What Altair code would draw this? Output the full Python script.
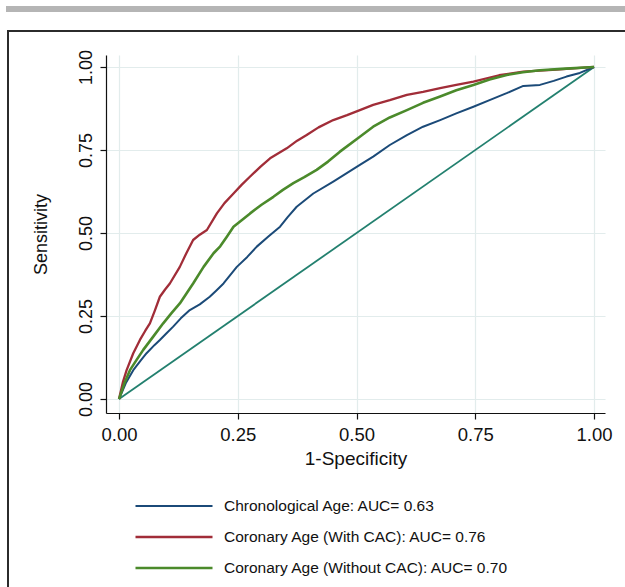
import altair as alt
import pandas as pd

# ---- data ----
labels = [
    "Chronological Age: AUC= 0.63",
    "Coronary Age (With CAC): AUC= 0.76",
    "Coronary Age (Without CAC): AUC= 0.70",
]
colors = ["#1b4a78", "#a12d38", "#4b8a2b"]
widths = [2.0, 2.6, 2.6]

fpr_chrono = [0, 0.015, 0.030, 0.045, 0.058, 0.075, 0.086, 0.100, 0.114, 0.130, 0.149, 0.170,
              0.191, 0.205, 0.220, 0.248, 0.270, 0.290, 0.315, 0.339, 0.355, 0.374, 0.409,
              0.451, 0.507, 0.535, 0.570, 0.606, 0.640, 0.676, 0.710, 0.746, 0.780, 0.816,
              0.851, 0.886, 0.915, 0.942, 0.970, 1.0]
tpr_chrono = [0, 0.050, 0.087, 0.115, 0.138, 0.163, 0.178, 0.198, 0.218, 0.243, 0.268, 0.285,
              0.308, 0.327, 0.348, 0.398, 0.428, 0.459, 0.490, 0.519, 0.548, 0.579, 0.619,
              0.655, 0.705, 0.730, 0.765, 0.795, 0.820, 0.840, 0.860, 0.880, 0.900, 0.921,
              0.943, 0.946, 0.958, 0.971, 0.982, 1.0]

fpr_with = [0, 0.008, 0.016, 0.030, 0.044, 0.055, 0.065, 0.075, 0.086, 0.097, 0.107, 0.128,
            0.142, 0.156, 0.170, 0.185, 0.206, 0.222, 0.241, 0.258, 0.276, 0.298, 0.318,
            0.353, 0.375, 0.395, 0.420, 0.451, 0.480, 0.507, 0.535, 0.570, 0.606, 0.640,
            0.676, 0.710, 0.746, 0.800, 0.851, 0.921, 1.0]
tpr_with = [0, 0.050, 0.087, 0.138, 0.178, 0.205, 0.228, 0.265, 0.308, 0.330, 0.348, 0.398,
            0.440, 0.479, 0.495, 0.509, 0.559, 0.590, 0.619, 0.645, 0.670, 0.700, 0.725,
            0.755, 0.778, 0.795, 0.818, 0.840, 0.855, 0.870, 0.886, 0.900, 0.916, 0.925,
            0.936, 0.946, 0.956, 0.975, 0.986, 0.992, 1.0]

fpr_without = [0, 0.012, 0.023, 0.037, 0.051, 0.072, 0.093, 0.110, 0.128, 0.142, 0.156, 0.178,
               0.199, 0.213, 0.227, 0.241, 0.276, 0.300, 0.325, 0.345, 0.367, 0.390, 0.416,
               0.440, 0.465, 0.507, 0.535, 0.570, 0.606, 0.640, 0.676, 0.710, 0.746, 0.780,
               0.816, 0.850, 0.886, 0.940, 1.0]
tpr_without = [0, 0.050, 0.087, 0.118, 0.148, 0.188, 0.228, 0.258, 0.288, 0.318, 0.348, 0.398,
               0.439, 0.460, 0.489, 0.519, 0.559, 0.585, 0.609, 0.630, 0.650, 0.668, 0.690,
               0.715, 0.745, 0.790, 0.820, 0.848, 0.870, 0.892, 0.911, 0.930, 0.946, 0.962,
               0.976, 0.984, 0.990, 0.995, 1.0]

ref_x = [0, 1]
ref_y = [0, 1]
tick_vals = [0, 0.25, 0.5, 0.75, 1.0]

# ---- build table ----
rows = []
for lab, xs, ys in zip(labels, [fpr_chrono, fpr_with, fpr_without], [tpr_chrono, tpr_with, tpr_without]):
    for i, (xv, yv) in enumerate(zip(xs, ys)):
        rows.append({"series": lab, "fpr": xv, "tpr": yv, "idx": i})
df = pd.DataFrame(rows)
ref_df = pd.DataFrame({"fpr": ref_x, "tpr": ref_y})

FONT = "Liberation Sans"
x_scale = alt.Scale(domain=[-0.0274, 1.023], nice=False, zero=False)
y_scale = alt.Scale(domain=[-0.042, 1.036], nice=False, zero=False)

x_axis = alt.Axis(values=tick_vals, format=".2f", title="1-Specificity", labelFlush=False,
                  labelFontSize=18.5, titleFontSize=19, labelPadding=6, titlePadding=6)
y_axis = alt.Axis(values=tick_vals, format=".2f", title="Sensitivity", labelAngle=270,
                  labelAlign="center", labelBaseline="bottom", labelFontSize=18,
                  titleFontSize=18, labelPadding=5, titlePadding=27)

frame_df = pd.DataFrame({"k": [0]})
frame = alt.Chart(frame_df).mark_rect(fill="transparent", stroke="#2b2b2b", strokeWidth=2).encode(
    x=alt.value(-98), x2=alt.value(620), y=alt.value(-24), y2=alt.value(620)
)
topbar = alt.Chart(frame_df).mark_rect(fill="#b5b5b5").encode(
    x=alt.value(-100), x2=alt.value(620), y=alt.value(-49), y2=alt.value(-43)
)

diag = alt.Chart(ref_df).mark_line(color="#23806f", strokeWidth=1.8).encode(
    x=alt.X("fpr:Q", scale=x_scale, axis=x_axis),
    y=alt.Y("tpr:Q", scale=y_scale, axis=y_axis),
)

curves = alt.Chart(df).mark_line(strokeJoin="round").encode(
    x=alt.X("fpr:Q", scale=x_scale, axis=x_axis),
    y=alt.Y("tpr:Q", scale=y_scale, axis=y_axis),
    order="idx:Q",
    color=alt.Color(
        "series:N",
        scale=alt.Scale(domain=labels, range=colors),
        sort=labels,
        legend=alt.Legend(
            title=None, orient="none", legendX=28, legendY=441,
            symbolType="stroke", symbolSize=5929, symbolStrokeWidth=2.5,
            labelFontSize=15.5, labelFont=FONT, labelColor="#111111", labelLimit=500,
            clipHeight=20, rowPadding=11, symbolOffset=0, labelOffset=10, padding=0,
        ),
    ),
    strokeWidth=alt.StrokeWidth("series:N", scale=alt.Scale(domain=labels, range=widths), legend=None),
)

chart = alt.layer(frame, topbar, diag, curves).properties(
    width=499,
    height=358,
    autosize=alt.AutoSizeParams(type="none"),
    padding={"left": 106, "top": 55, "right": 20, "bottom": 174},
    background="white",
).configure_view(stroke=None).configure_axis(
    labelFont=FONT, titleFont=FONT, labelColor="#111111", titleColor="#111111",
    titleFontWeight="normal", domainColor="#111111", domainWidth=1.2,
    tickColor="#111111", tickWidth=1.2, tickSize=6,
    gridColor="#e2ecec", gridWidth=1.2,
)

chart.save("out.html", embed_options={"renderer": "svg", "actions": False})
